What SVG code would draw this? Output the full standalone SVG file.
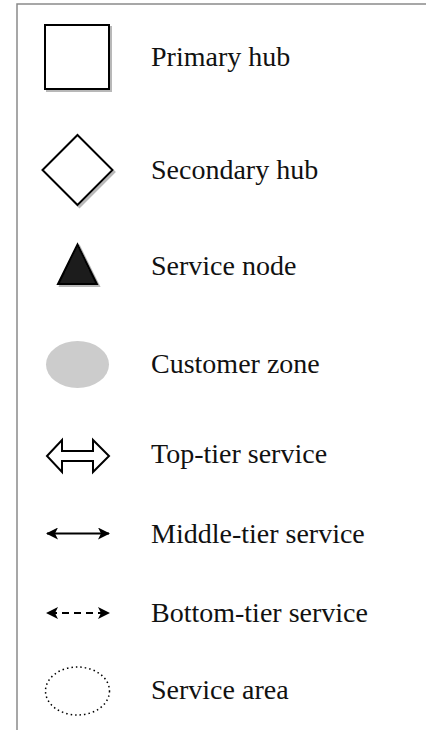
<svg xmlns="http://www.w3.org/2000/svg" width="426" height="730" viewBox="0 0 426 730">
  <defs>
    <filter id="shadow" x="-20%" y="-20%" width="150%" height="150%">
      <feDropShadow dx="2" dy="2" stdDeviation="0.6" flood-color="#888" flood-opacity="0.6"/>
    </filter>
    <marker id="head" viewBox="0 0 12 12" refX="11" refY="6" markerWidth="12" markerHeight="12" markerUnits="userSpaceOnUse" orient="auto-start-reverse">
      <path d="M0,0 L12,6 L0,12 L3,6 Z" fill="#000"/>
    </marker>
    <style>
      .frame { fill: none; stroke: #8a8a8a; stroke-width: 1.5; }
      .label { font-family: "Liberation Serif", "Times New Roman", serif; font-size: 28px; fill: #111; }
      .sym { stroke: #000; stroke-width: 2; }
      .link { fill: none; stroke: #000; stroke-width: 2; marker-start: url(#head); marker-end: url(#head); }
    </style>
  </defs>

  <rect width="426" height="730" fill="#fff"/>
  <path class="frame" d="M17,730 L17,4 L426,4"/>

  <g id="primary-hub">
    <rect class="sym" x="45" y="25" width="64" height="64" fill="#fff" filter="url(#shadow)"/>
    <text class="label" x="151" y="66">Primary hub</text>
  </g>

  <g id="secondary-hub">
    <polygon class="sym" points="77.5,135 112.5,170 77.5,205 42.5,170" fill="#fff" filter="url(#shadow)"/>
    <text class="label" x="151" y="179">Secondary hub</text>
  </g>

  <g id="service-node">
    <polygon class="sym" points="77.5,244.5 97,284 58,284" fill="#1a1a1a" stroke-width="1" filter="url(#shadow)"/>
    <text class="label" x="151" y="275">Service node</text>
  </g>

  <g id="customer-zone">
    <ellipse cx="77.5" cy="364.5" rx="31.5" ry="23.5" fill="#cccccc"/>
    <text class="label" x="151" y="373">Customer zone</text>
  </g>

  <g id="connectors">
    <g id="top-tier-arrow">
      <polygon class="sym" fill="#fff" points="47,456 62,440 62,451 93,451 93,440 109,456 93,472 93,461 62,461 62,472"/>
    </g>
    <g id="middle-tier-arrow">
      <line class="link" x1="47" y1="533.5" x2="109" y2="533.5"/>
    </g>
    <g id="bottom-tier-arrow">
      <line class="link" x1="47" y1="613" x2="109" y2="613" stroke-dasharray="7,5" stroke-dashoffset="-3"/>
    </g>
  </g>

  <g id="top-tier-label">
    <text class="label" x="151" y="463">Top-tier service</text>
  </g>
  <g id="middle-tier-label">
    <text class="label" x="151" y="543">Middle-tier service</text>
  </g>
  <g id="bottom-tier-label">
    <text class="label" x="151" y="622">Bottom-tier service</text>
  </g>

  <g id="service-area">
    <ellipse cx="77.5" cy="691" rx="32" ry="24" fill="none" stroke="#000" stroke-width="1.5" stroke-dasharray="1.5,3"/>
    <text class="label" x="151" y="699">Service area</text>
  </g>
</svg>
